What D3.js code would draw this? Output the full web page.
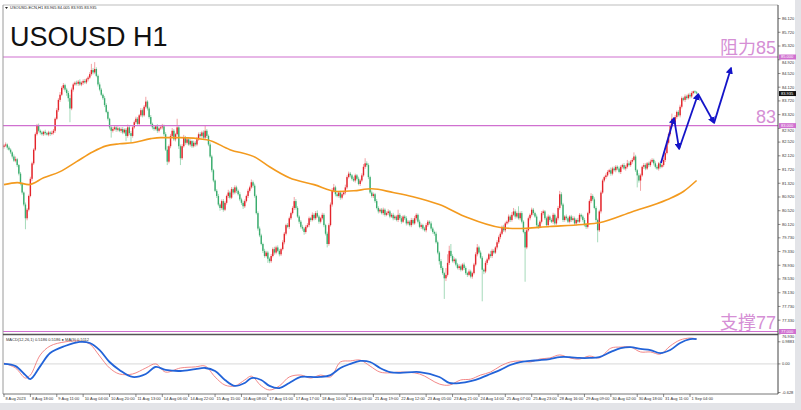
<!DOCTYPE html>
<html><head><meta charset="utf-8">
<script src="https://cdn.jsdelivr.net/npm/d3@7"></script>
<style>html,body{margin:0;padding:0;background:#e3e4e8;} svg{display:block}</style>
</head><body>
<svg id="c" width="801" height="410"></svg>
<script>
// ---------------- DATA ----------------
const open0 = 82.38;
const closes = [
82.42,82.45,82.36,82.30,82.22,82.10,81.98,82.02,81.85,81.60,
81.30,81.05,80.70,80.30,80.55,80.95,81.45,81.90,82.30,82.75,
83.00,82.85,82.80,82.75,82.82,82.78,82.74,82.80,82.76,82.79,
82.85,83.20,83.45,83.75,83.90,84.10,84.18,84.05,83.95,83.80,
83.50,84.05,84.20,84.25,84.22,84.28,84.20,84.25,84.30,84.26,
84.35,84.40,84.50,84.62,84.55,84.65,84.45,84.20,84.05,83.90,
83.80,83.60,83.40,83.20,82.95,82.85,82.90,82.95,82.88,82.92,
82.85,82.90,82.80,82.88,82.70,82.95,82.78,82.70,82.95,83.10,
83.20,83.05,83.30,83.45,83.30,83.55,83.70,83.50,83.25,83.05,
82.95,82.90,82.98,82.85,82.92,82.95,82.98,82.75,82.30,81.95,
82.40,82.70,82.85,82.60,82.75,82.95,82.40,82.05,82.40,82.65,
82.50,82.60,82.45,82.55,82.40,82.50,82.45,82.60,82.75,82.70,
82.80,82.65,82.85,82.70,82.45,82.10,81.70,81.40,81.10,80.95,
80.70,80.60,80.80,80.55,80.75,80.95,81.05,80.90,81.15,81.05,
81.20,81.10,81.00,80.85,80.75,80.65,80.80,80.95,81.10,81.20,
81.35,81.25,80.95,80.45,80.00,79.80,79.55,79.35,79.20,79.30,
79.12,79.05,79.20,79.40,79.30,79.45,79.35,79.25,79.40,79.60,
79.85,80.10,80.05,80.30,80.45,80.60,80.80,80.60,80.35,80.20,
80.05,80.00,79.90,80.05,80.10,80.30,80.25,80.40,80.30,80.45,
80.35,80.20,80.30,80.40,80.10,79.85,79.55,80.10,80.70,81.10,
81.20,81.00,80.95,81.05,80.90,81.00,81.05,81.20,81.50,81.60,
81.55,81.45,81.40,81.55,81.45,81.30,81.40,81.55,81.80,81.90,
81.85,81.50,81.05,80.95,81.00,80.80,80.60,80.50,80.55,80.45,
80.55,80.40,80.45,80.50,80.35,80.40,80.30,80.35,80.25,80.40,
80.30,80.20,80.35,80.30,80.15,80.20,80.10,80.25,80.15,80.30,
80.40,80.20,80.05,80.10,80.00,79.95,80.10,80.20,80.15,80.00,
79.90,79.85,79.60,79.30,79.05,78.85,78.70,78.55,78.65,79.00,
79.35,79.20,79.05,79.10,78.95,78.85,78.90,78.80,78.95,78.85,
78.70,78.65,78.75,78.60,78.70,78.95,79.25,79.45,79.30,79.15,
78.80,78.75,79.00,79.10,79.25,79.20,79.35,79.30,79.45,79.60,
79.75,79.85,80.05,79.95,80.15,80.20,80.35,80.25,80.40,80.50,
80.35,80.45,80.30,80.45,80.20,79.90,79.45,79.95,80.30,80.40,
80.55,80.45,80.35,80.10,80.05,80.20,80.45,80.50,80.30,80.10,
80.35,80.25,80.20,80.40,80.15,80.30,80.60,81.00,80.70,80.25,
80.35,80.30,80.20,80.35,80.25,80.30,80.15,80.25,80.20,80.40,
80.35,80.25,80.10,80.05,80.45,80.80,80.95,80.85,80.60,80.25,
79.95,80.50,81.05,81.40,81.50,81.55,81.65,81.70,81.60,81.75,
81.70,81.80,81.75,81.65,81.80,81.85,81.75,81.80,81.90,81.85,
81.95,82.00,82.10,81.70,81.55,81.40,81.55,81.80,81.85,81.75,
81.90,81.85,81.95,82.00,81.90,81.80,81.75,81.90,81.80,81.85,
82.00,82.20,82.50,82.75,83.00,83.20,83.10,83.25,83.40,83.30,
83.55,83.80,83.75,83.85,83.80,83.90,83.85,83.95,84.00,83.97,
83.935];
// upper / lower wick lengths in cents
const wickHi = [
4,6,3,5,4,3,6,8,4,3,5,4,3,6,5,4,6,5,4,5,
5,6,4,5,3,6,4,5,4,6,5,4,6,5,8,5,6,4,5,6,
10,6,5,4,6,5,7,4,5,6,4,5,6,18,6,20,5,4,6,5,
4,6,5,4,3,5,6,4,5,6,4,5,6,4,5,8,5,6,4,5,
6,5,4,6,5,5,14,4,5,6,4,5,4,6,5,4,7,5,6,10,
5,6,8,5,4,25,6,5,6,8,5,4,6,5,4,6,5,7,5,6,
5,6,15,5,4,6,5,4,3,5,6,4,5,6,5,4,8,5,6,5,
6,5,4,6,5,6,5,4,6,5,8,5,6,4,5,6,5,4,6,5,
5,4,6,5,7,5,6,5,4,6,5,4,6,5,4,5,12,6,5,4,
5,6,4,5,6,5,4,7,5,6,8,5,4,6,5,4,6,5,6,8,
10,5,6,4,5,6,5,8,5,6,5,4,6,5,4,6,5,6,8,15,
6,5,4,6,5,4,6,5,4,5,6,4,5,6,4,5,6,5,4,15,
5,6,4,5,6,5,4,6,5,7,5,4,6,5,4,5,6,5,4,6,
5,4,6,5,4,6,5,4,20,25,15,20,5,6,4,5,6,5,4,6,
5,4,6,5,4,5,6,10,5,6,5,4,6,5,4,10,6,5,4,6,
5,6,4,6,5,4,6,5,8,10,6,5,20,5,6,4,5,6,5,4,
6,5,4,6,5,4,6,5,4,5,6,4,5,6,4,5,6,10,6,5,
4,6,5,4,5,6,5,4,6,5,4,5,6,5,4,5,8,5,6,5,
4,5,6,5,4,6,5,4,8,5,
6,5,4,6,5,4,6,5,10,6,5,6,12,5,4,6,5,4,6,5,
4,5,6,5,4,6,5,4,6,5,5,4,6,5,6,15,5,6,4,5,
6,5,4,6,5,4,6,5,2,3,4];
const wickLo = [
5,4,6,3,5,6,4,5,6,5,4,6,5,32,6,5,4,6,5,4,
4,5,6,4,5,6,3,5,6,4,5,6,4,5,6,4,5,6,8,10,
40,5,6,4,5,6,4,5,6,4,5,6,4,5,6,5,4,6,5,4,
5,6,4,5,6,20,5,4,6,5,4,6,5,4,15,5,6,20,5,4,
5,6,4,5,6,4,5,6,5,4,6,5,4,6,5,4,6,5,4,10,
5,6,4,5,6,4,8,20,5,4,6,5,4,6,5,4,6,5,4,5,
6,5,4,6,5,4,6,5,4,6,5,8,5,6,4,5,6,5,4,6,
5,6,4,5,6,8,5,4,6,5,4,6,5,4,6,5,4,6,5,4,
12,6,5,4,6,5,4,6,5,4,6,5,4,6,5,4,6,5,4,6,
5,6,8,5,4,6,5,4,6,5,4,6,5,4,6,5,10,5,4,6,
5,6,4,5,6,5,4,6,5,4,6,5,4,6,5,4,6,5,4,6,
5,6,4,5,6,5,4,6,5,4,6,5,4,6,5,4,6,5,4,6,
5,6,4,5,6,5,4,6,5,4,6,5,4,6,5,4,6,5,4,6,
5,6,4,5,10,6,5,60,8,5,6,5,4,6,5,4,6,5,4,6,
5,6,4,5,6,4,5,6,5,4,92,8,5,6,4,5,6,5,4,6,
5,6,4,5,6,4,5,6,5,4,6,5,4,6,5,4,100,5,4,6,
5,6,4,5,6,4,5,6,5,4,6,5,4,6,5,4,6,5,4,6,
5,6,4,5,6,4,5,6,5,4,6,5,4,6,5,4,6,5,4,6,
35,5,6,4,5,6,4,5,6,5,
4,6,5,4,6,5,4,6,5,4,5,6,4,5,35,6,30,4,6,5,
4,6,5,4,6,5,4,6,5,4,5,6,4,5,6,4,5,6,5,4,
6,5,4,6,5,4,6,5,4,4,0];
// moving average samples (bar index, price)
const maIdx = [0,8,15,24,34,44,54,62,70,78,89,95,107,123,137,153,161,173,188,202,212,223,236,248,264,281,301,311,331,351,361,381,402,412,420];
const maVal = [81.28,81.34,81.28,81.48,81.66,81.95,82.24,82.41,82.47,82.50,82.62,82.65,82.65,82.59,82.30,82.06,81.80,81.48,81.28,81.08,81.10,81.16,81.05,80.93,80.70,80.32,80.03,80.00,80.06,80.12,80.17,80.49,80.84,81.08,81.40];
// MACD samples
const macdIdx = [0,7,13,16,22,28,37,46,52,58,64,70,78,86,92,98,107,116,122,128,134,140,146,150,156,161,167,173,180,186,192,198,204,210,216,222,228,234,240,252,264,270,277,283,289,295,301,307,313,319,325,331,337,343,349,355,361,368,374,380,386,392,398,404,410,416,420];
const macdMain = [0.00,-0.08,-0.41,-0.56,-0.08,0.40,0.66,0.81,0.77,0.51,0.07,-0.22,-0.48,-0.37,-0.11,-0.22,-0.26,-0.19,-0.15,-0.26,-0.59,-0.81,-0.70,-0.52,-0.59,-0.81,-0.89,-0.70,-0.48,-0.48,-0.48,-0.41,-0.15,0.00,0.11,0.07,-0.15,-0.30,-0.33,-0.30,-0.48,-0.70,-0.70,-0.63,-0.52,-0.37,-0.22,-0.04,0.07,0.11,0.14,0.18,0.25,0.25,0.22,0.22,0.25,0.44,0.58,0.62,0.55,0.51,0.40,0.51,0.77,0.91,0.91];
const macdSignal = [0.03,-0.15,-0.52,-0.41,0.33,0.66,0.81,0.84,0.73,0.29,-0.15,-0.37,-0.37,-0.15,0.00,-0.30,-0.15,-0.11,-0.08,-0.48,-0.78,-0.81,-0.59,-0.45,-0.81,-0.96,-0.81,-0.48,-0.41,-0.52,-0.41,-0.48,0.07,0.11,0.14,-0.08,-0.30,-0.33,-0.30,-0.37,-0.74,-0.78,-0.59,-0.56,-0.41,-0.30,-0.08,0.07,0.11,0.07,0.18,0.22,0.33,0.22,0.18,0.29,0.22,0.58,0.62,0.62,0.44,0.44,0.36,0.66,0.88,0.95,0.92];
// projected path (bar index, price)
const projIdx = [398.4,406.3,409.4,420.9,430.6,440.9];
const projVal = [81.91,83.22,82.32,83.92,83.08,84.68];
// levels
const levels = [85, 83, 77];
const levelText = ["阻力85", "83", "支撑77"];
const levelBox = ["85.000", "83.000", "77.000"];
const priceTicks = ["86.120","85.720","85.320","84.920","84.520","84.120","83.720","83.320","82.920","82.520","82.120","81.720","81.320","80.920","80.520","80.120","79.730","79.330","78.930","78.530","78.130","77.730","77.330","76.930"];
const lastPrice = 83.935;
const timeLabels = ["8 Aug 2023","8 Aug 18:00","9 Aug 11:00","10 Aug 04:00","10 Aug 20:00","11 Aug 13:00","14 Aug 06:00","14 Aug 22:00","15 Aug 15:00","16 Aug 08:00","17 Aug 01:00","17 Aug 17:00","18 Aug 10:00","21 Aug 03:00","21 Aug 19:00","22 Aug 12:00","23 Aug 05:00","23 Aug 21:00","24 Aug 14:00","25 Aug 07:00","25 Aug 23:00","28 Aug 16:00","29 Aug 09:00","30 Aug 02:00","30 Aug 18:00","31 Aug 11:00","1 Sep 04:00"];
const labelStep = 16;
const macdLabels = ["0.9883","0.00","-0.628"];

// ---------------- DRAW ----------------
const svg = d3.select("#c");
const F = "'Liberation Sans', Arial, sans-serif";
svg.append("rect").attr("x",0).attr("y",0).attr("width",795).attr("height",403).attr("fill","#fff");

const x = d3.scaleLinear().domain([0, 416]).range([4, 690]);
const y = d3.scaleLinear().domain([77, 85]).range([331.5, 57]);
const ym = d3.scaleLinear().domain([-1.07, 0.99]).range([393, 337]);

const L = 3, R = 778, T = 5, MB = 334, B = 394;

const defs = svg.append("defs");
defs.append("clipPath").attr("id","cpm").append("rect").attr("x",L).attr("y",T).attr("width",R-L).attr("height",MB-T);
defs.append("clipPath").attr("id","cpd").append("rect").attr("x",L).attr("y",MB+1).attr("width",R-L).attr("height",B-MB-1);

// candles
const bars = closes.map((c,i)=>{
  const o = i===0 ? open0 : closes[i-1];
  return {i, o, c, h: Math.max(o,c)+wickHi[i]/100, l: Math.min(o,c)-wickLo[i]/100};
});
const gm = svg.append("g").attr("clip-path","url(#cpm)");
gm.selectAll("line.w").data(bars).enter().append("line")
  .attr("x1",d=>x(d.i)).attr("x2",d=>x(d.i))
  .attr("y1",d=>y(d.h)).attr("y2",d=>y(d.l))
  .attr("stroke",d=>d.c>=d.o?"#f29a9c":"#9bd6b2").attr("stroke-width",0.9);
gm.selectAll("rect.b").data(bars).enter().append("rect")
  .attr("x",d=>x(d.i)-0.7).attr("width",1.4)
  .attr("y",d=>y(Math.max(d.o,d.c)))
  .attr("height",d=>Math.max(0.7, Math.abs(y(d.o)-y(d.c))))
  .attr("fill",d=>d.c>=d.o?"#e3242b":"#3aac6e");

// MA
const maData = maIdx.map((v,k)=>[v, maVal[k]]);
gm.append("path").datum(maData)
  .attr("d", d3.line().x(d=>x(d[0])).y(d=>y(d[1])).curve(d3.curveMonotoneX))
  .attr("fill","none").attr("stroke","#f39a1e").attr("stroke-width",1.6);

// levels
levels.forEach((lv,k)=>{
  svg.append("line").attr("x1",L).attr("x2",R).attr("y1",y(lv)).attr("y2",y(lv))
    .attr("stroke","#d070d0").attr("stroke-width",1.2);
  svg.append("text").attr("x",776).attr("y",y(lv)-3).attr("text-anchor","end")
    .attr("font-family","'Liberation Sans','Noto Sans CJK SC',sans-serif").attr("font-size",18)
    .attr("fill","#d58fd5").text(levelText[k]);
});

// projection arrows
defs.append("marker").attr("id","ah").attr("viewBox","0 0 10 10").attr("refX",8).attr("refY",5)
  .attr("markerWidth",4).attr("markerHeight",4).attr("orient","auto")
  .append("path").attr("d","M0,0L10,5L0,10z").attr("fill","#1414c8");
for (let k=0;k<projIdx.length-1;k++){
  svg.append("line")
    .attr("x1",x(projIdx[k])).attr("y1",y(projVal[k]))
    .attr("x2",x(projIdx[k+1])).attr("y2",y(projVal[k+1]))
    .attr("stroke","#1414c8").attr("stroke-width",1.8).attr("marker-end","url(#ah)");
}

// title & header
svg.append("text").attr("x",10).attr("y",46).attr("font-family",F).attr("font-size",27).attr("fill","#111").text("USOUSD H1");
svg.append("path").attr("d","M5,7 L8,7 L6.5,9 Z").attr("fill","#222");
svg.append("text").attr("x",10).attr("y",9).attr("font-family",F).attr("font-size",4).attr("fill","#222")
  .text("USOUSD-ECN,H1  83.965 84.005 83.935 83.935");

// MACD
const gd = svg.append("g").attr("clip-path","url(#cpd)");
gd.append("line").attr("x1",L).attr("x2",R).attr("y1",ym(0)).attr("y2",ym(0)).attr("stroke","#cfcfcf").attr("stroke-width",0.8);
const lineM = d3.line().x(d=>x(d[0])).y(d=>ym(d[1])).curve(d3.curveCatmullRom);
gd.append("path").datum(macdIdx.map((v,k)=>[v,macdSignal[k]])).attr("d",lineM)
  .attr("fill","none").attr("stroke","#f07b7b").attr("stroke-width",0.9);
gd.append("path").datum(macdIdx.map((v,k)=>[v,macdMain[k]])).attr("d",lineM)
  .attr("fill","none").attr("stroke","#2263d8").attr("stroke-width",1.8);
svg.append("text").attr("x",6).attr("y",341).attr("font-family",F).attr("font-size",4).attr("fill","#333")
  .text("MACD(12,26,1) 0.5186 0.5186  \u25CF MA(9) 0.5112");

// frame
svg.append("line").attr("x1",L).attr("x2",R).attr("y1",T).attr("y2",T).attr("stroke","#bdbdbd");
svg.append("line").attr("x1",L).attr("x2",L).attr("y1",T).attr("y2",B).attr("stroke","#9a9a9a");
svg.append("line").attr("x1",L).attr("x2",R).attr("y1",MB+0.5).attr("y2",MB+0.5).attr("stroke","#555").attr("stroke-width",1.3);
svg.append("line").attr("x1",L).attr("x2",R).attr("y1",B).attr("y2",B).attr("stroke","#777");
svg.append("line").attr("x1",R).attr("x2",R).attr("y1",T).attr("y2",B).attr("stroke","#444");

// price axis (ticks next to a box label are nudged clear of it)
const boxYs = levels.map(v=>y(v)).concat([y(lastPrice)]);
priceTicks.forEach(t=>{
  const v = +t, yy = y(v);
  let ty = yy;
  boxYs.forEach(by=>{ if (Math.abs(ty-by) < 5.2) ty = by + (ty>=by ? 5.2 : -5.2); });
  svg.append("line").attr("x1",R).attr("x2",R+2.5).attr("y1",yy).attr("y2",yy).attr("stroke","#444").attr("stroke-width",0.6);
  svg.append("text").attr("x",R+4).attr("y",ty+1.4).attr("font-family",F).attr("font-size",4).attr("fill","#333").text(t);
});
function box(v, txt, fill){
  const yy = y(v);
  svg.append("rect").attr("x",R+1).attr("y",yy-2.5).attr("width",17).attr("height",5).attr("fill",fill);
  svg.append("text").attr("x",R+3).attr("y",yy+1.4).attr("font-family",F).attr("font-size",4).attr("fill","#fff").text(txt);
}
levels.forEach((lv,k)=>box(lv, levelBox[k], "#d070d0"));
box(lastPrice, lastPrice.toFixed(3), "#111");

// MACD axis
const macdPos = [341.8, ym(0), 392.5];
macdLabels.forEach((t,k)=>{
  svg.append("line").attr("x1",R).attr("x2",R+2.5).attr("y1",macdPos[k]).attr("y2",macdPos[k]).attr("stroke","#444").attr("stroke-width",0.6);
  svg.append("text").attr("x",R+4).attr("y",macdPos[k]+1.4).attr("font-family",F).attr("font-size",4).attr("fill","#333").text(t);
});

// time axis
timeLabels.forEach((t,k)=>{
  const xx = x(k*labelStep);
  svg.append("line").attr("x1",xx).attr("x2",xx).attr("y1",B).attr("y2",B+3).attr("stroke","#444").attr("stroke-width",0.6);
  svg.append("text").attr("x",xx+1.5).attr("y",B+5.5).attr("font-family",F).attr("font-size",4).attr("fill","#333").text(t);
});
</script>
</body></html>
